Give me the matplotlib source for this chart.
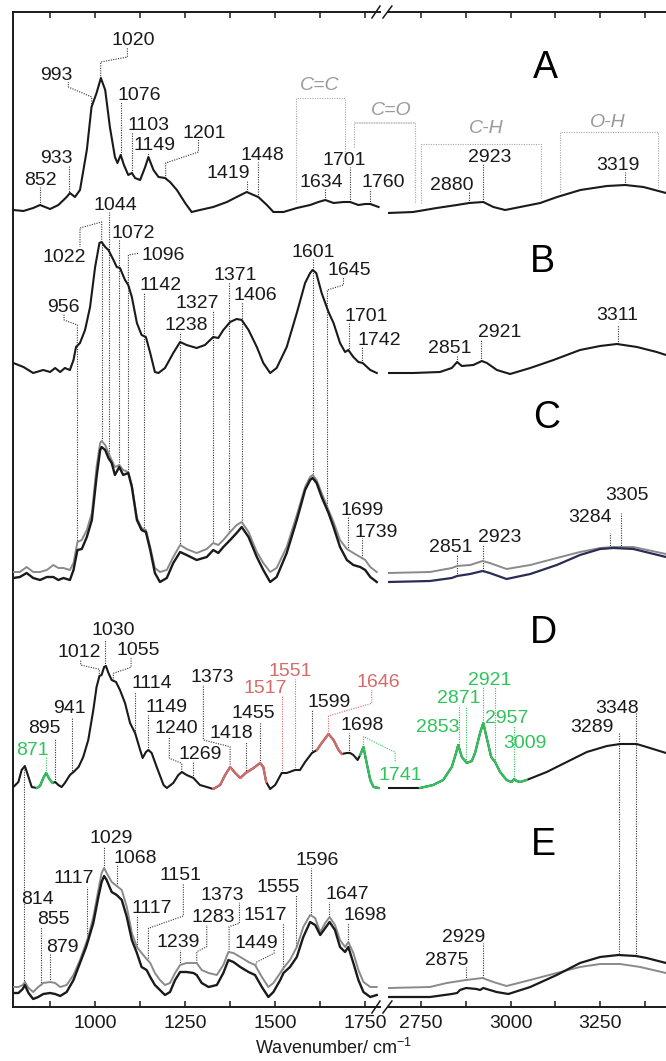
import numpy as np
import matplotlib.pyplot as plt
from matplotlib.patches import ConnectionPatch

plt.rcParams["font.family"] = ["Liberation Sans", "DejaVu Sans"]
plt.rcParams["mathtext.fontset"] = "custom"
plt.rcParams["mathtext.rm"] = "Liberation Sans"

INK = "#1a1a1a"
GREY = "#8a8a8a"
NAVY = "#2a2c55"
GREEN = "#30c35c"
RED = "#d86a6a"
LEAD = "#333333"
BRACKET = "#a8a8a8"
TONES = {"k": INK, "g": GREEN, "r": RED}

# ---------------------------------------------------------------- spectra
# y is an arbitrary stacked intensity (offset per trace), x in cm-1
A_LEFT_WN = [773, 801, 828, 847, 875, 898, 921, 930, 944, 958, 977, 990, 1004, 1016, 1028, 1041,
             1055, 1062, 1071, 1080, 1092, 1102, 1111, 1125, 1139, 1148, 1162, 1176, 1194, 1208,
             1227, 1250, 1268, 1291, 1328, 1366, 1393, 1421, 1440, 1453, 1477, 1495, 1523, 1560,
             1597, 1620, 1639, 1662, 1690, 1708, 1731, 1750, 1764, 1787]
A_LEFT_Y = [797, 796, 799, 802, 798, 802, 810, 814, 810, 817, 857, 900, 914, 929, 917, 880,
            850, 844, 852, 842, 832, 834, 829, 827, 840, 850, 837, 830, 829, 825,
            817, 804, 795, 797, 800, 805, 810, 815, 812, 810, 802, 795, 795, 799,
            802, 805, 807, 804, 805, 805, 802, 803, 803, 800]
A_RIGHT_WN = [2659, 2728, 2794, 2850, 2885, 2924, 2952, 2985, 3027, 3083, 3130, 3195, 3269, 3320, 3371, 3434]
A_RIGHT_Y = [794, 795, 799, 802, 804, 805, 800, 797, 800, 804, 810, 817, 821, 822, 820, 814]

B_LEFT_WN = [773, 801, 828, 856, 875, 889, 903, 916, 930, 940, 947, 958, 972, 986, 1000, 1012,
             1018, 1028, 1037, 1051, 1060, 1069, 1083, 1092, 1102, 1116, 1129, 1141, 1153, 1166,
             1176, 1194, 1217, 1236, 1254, 1282, 1305, 1328, 1342, 1356, 1375, 1393, 1407, 1426,
             1449, 1467, 1486, 1504, 1532, 1560, 1583, 1597, 1604, 1614, 1629, 1648, 1662, 1680,
             1694, 1703, 1717, 1731, 1743, 1764, 1782]
B_LEFT_Y = [644, 640, 634, 637, 635, 639, 635, 639, 637, 647, 660, 664, 677, 700, 740, 764,
            765, 760, 757, 747, 740, 739, 727, 722, 710, 684, 672, 670, 654, 635,
            634, 639, 654, 665, 662, 659, 662, 670, 669, 677, 685, 688, 687, 677,
            660, 644, 634, 639, 660, 694, 724, 734, 737, 734, 714, 695, 684, 664,
            655, 657, 650, 645, 644, 637, 634]
B_RIGHT_WN = [2659, 2728, 2803, 2836, 2851, 2864, 2896, 2920, 2934, 2962, 2999, 3055, 3120, 3194,
              3250, 3297, 3353, 3408, 3434]
B_RIGHT_Y = [634, 634, 635, 639, 645, 641, 642, 646, 644, 637, 633, 639, 647, 657, 661, 663, 660, 655, 652]

C_LEFT_WN = [773, 791, 810, 828, 847, 866, 884, 898, 912, 930, 940, 951, 963, 977, 991, 1004,
             1014, 1018, 1028, 1037, 1046, 1055, 1067, 1078, 1092, 1102, 1116, 1129, 1141, 1153,
             1166, 1180, 1199, 1217, 1236, 1254, 1282, 1310, 1328, 1342, 1356, 1375, 1393, 1407,
             1426, 1449, 1467, 1486, 1504, 1532, 1560, 1583, 1597, 1604, 1615, 1629, 1648, 1662,
             1680, 1699, 1717, 1736, 1750, 1764, 1782]
C_LEFT_BLACK = [429, 430, 434, 429, 427, 430, 430, 427, 429, 427, 437, 457, 458, 470, 487, 530,
                557, 560, 557, 549, 544, 532, 540, 532, 534, 520, 487, 477, 475, 457,
                434, 425, 429, 444, 455, 452, 447, 450, 457, 454, 460, 467, 474, 480,
                470, 450, 437, 425, 430, 454, 487, 517, 527, 529, 524, 510, 494, 480,
                460, 447, 442, 440, 437, 430, 425]
C_LEFT_GREY = [435, 435, 440, 435, 435, 437, 442, 439, 439, 437, 444, 465, 467, 477, 494, 540,
               564, 566, 562, 554, 547, 540, 542, 537, 535, 522, 489, 479, 477, 460,
               439, 435, 437, 450, 462, 458, 454, 458, 464, 462, 467, 475, 482, 485,
               475, 455, 444, 435, 439, 460, 492, 520, 530, 532, 527, 514, 497, 485,
               467, 458, 454, 450, 447, 440, 435]
C_RIGHT_WN = [2659, 2775, 2836, 2851, 2887, 2922, 2942, 2989, 3055, 3129, 3194, 3250, 3287, 3343, 3434]
C_RIGHT_GREY = [434, 435, 439, 441, 442, 446, 444, 438, 442, 449, 455, 459, 460, 460, 453]
C_RIGHT_DARK = [425, 426, 429, 431, 433, 436, 434, 428, 433, 442, 452, 458, 459, 458, 450]

D_LEFT_WN = [773, 787, 796, 805, 815, 824, 838, 847, 856, 864, 873, 882, 889, 898, 907, 916,
             930, 940, 954, 967, 981, 995, 1004, 1012, 1018, 1025, 1030, 1037, 1046, 1058,
             1069, 1083, 1097, 1111, 1125, 1132, 1141, 1148, 1157, 1171, 1190, 1199, 1217, 1231,
             1241, 1254, 1273, 1291, 1310, 1328, 1347, 1361, 1375, 1389, 1403, 1418, 1440, 1458,
             1467, 1475, 1486, 1500, 1512, 1518, 1532, 1555, 1569, 1583, 1602, 1616, 1629, 1648,
             1662, 1676, 1685, 1699, 1708, 1717, 1729, 1736, 1745, 1754, 1764, 1773, 1787]
D_LEFT_Y = [220, 225, 237, 241, 230, 220, 219, 221, 229, 234, 228, 224, 225, 222, 220, 224,
            232, 235, 240, 250, 267, 297, 320, 331, 332, 340, 341, 334, 327, 325,
            317, 304, 284, 274, 257, 249, 255, 257, 254, 240, 222, 219, 224, 232,
            235, 232, 229, 222, 220, 218, 222, 232, 240, 234, 229, 234, 239, 244,
            240, 225, 218, 222, 230, 234, 234, 237, 237, 245, 254, 257, 264, 273,
            267, 257, 253, 254, 254, 252, 247, 252, 260, 244, 227, 220, 219]
D_RIGHT_WN = [2659, 2747, 2784, 2812, 2836, 2848, 2854, 2864, 2878, 2892, 2901, 2915, 2924, 2933,
              2946, 2957, 2971, 2989, 3003, 3010, 3017, 3027, 3045, 3101, 3157, 3213, 3269, 3306,
              3352, 3380, 3434]
D_RIGHT_Y = [219, 219, 222, 227, 240, 254, 262, 250, 244, 246, 254, 274, 284, 270,
             250, 245, 235, 227, 225, 228, 226, 225, 227, 235, 245, 255, 261, 263, 263, 260, 254]
# coloured stretches of trace D (cm-1 ranges)
D_GREEN_BANDS = [(838, 882), (1736, 1787), (2747, 3045)]
D_RED_BANDS = [(1328, 1475), (1616, 1685)]

E_LEFT_WN = [773, 787, 799, 805, 815, 828, 842, 856, 875, 889, 903, 921, 940, 958, 975, 981,
             995, 1009, 1018, 1025, 1032, 1046, 1060, 1074, 1088, 1102, 1116, 1129, 1143, 1153,
             1166, 1180, 1194, 1208, 1222, 1236, 1254, 1273, 1282, 1296, 1315, 1338, 1356, 1370,
             1384, 1403, 1426, 1444, 1463, 1481, 1495, 1514, 1523, 1541, 1560, 1578, 1597, 1611,
             1625, 1639, 1651, 1666, 1680, 1694, 1703, 1717, 1731, 1745, 1764, 1782]
E_LEFT_BLACK = [14, 14, 18, 22, 14, 8, 10, 13, 14, 13, 11, 15, 27, 44, 60, 67,
                84, 110, 125, 131, 127, 115, 112, 107, 90, 67, 54, 40, 37, 30,
                22, 17, 12, 15, 27, 35, 35, 34, 32, 24, 20, 22, 34, 47,
                45, 40, 35, 32, 20, 10, 15, 27, 34, 40, 50, 70, 85, 82,
                72, 79, 85, 77, 60, 55, 60, 44, 27, 15, 10, 12]
E_LEFT_GREY = [20, 20, 22, 25, 19, 15, 20, 24, 25, 24, 20, 22, 32, 47, 64, 70,
               90, 117, 134, 139, 134, 125, 121, 117, 100, 74, 60, 54, 48, 44,
               34, 27, 22, 24, 34, 42, 44, 44, 44, 37, 34, 32, 42, 55,
               54, 50, 45, 42, 30, 20, 24, 34, 39, 47, 60, 80, 92, 89,
               75, 84, 90, 82, 67, 60, 65, 54, 37, 25, 20, 20]
E_RIGHT_GREY_WN = [2659, 2775, 2822, 2876, 2922, 2952, 2989, 3055, 3129, 3194, 3250, 3306, 3362, 3434]
E_RIGHT_GREY = [19, 20, 24, 27, 29, 25, 21, 27, 34, 40, 43, 43, 40, 34]
E_RIGHT_BLACK_WN = [2659, 2775, 2836, 2851, 2859, 2876, 2905, 2915, 2924, 2933, 2961, 2994, 3055,
                    3129, 3194, 3250, 3301, 3350, 3380, 3434]
E_RIGHT_BLACK = [10, 10, 13, 14, 17, 19, 18, 17, 19, 18, 15, 13, 20, 32, 44, 50, 52, 51, 49, 44]

# ---------------------------------------------------------------- peak labels
A_LEFT_PEAKS = ["852", "933", "993", "1020", "1076", "1103", "1149", "1201", "1419", "1448",
                "1634", "1701", "1760"]
A_RIGHT_PEAKS = ["2880", "2923", "3319"]
B_LEFT_PEAKS = ["956", "1022", "1044", "1072", "1096", "1142", "1238", "1327", "1371", "1406",
                "1601", "1645", "1701", "1742"]
B_RIGHT_PEAKS = ["2851", "2921", "3311"]
C_LEFT_PEAKS = ["1699", "1739"]
C_RIGHT_PEAKS = ["2851", "2923", "3284", "3305"]
D_LEFT_PEAKS = ["871", "895", "941", "1012", "1030", "1055", "1114", "1149", "1240", "1269",
                "1373", "1418", "1455", "1517", "1551", "1599", "1646", "1698", "1741"]
D_LEFT_TONE = ["g", "k", "k", "k", "k", "k", "k", "k", "k", "k",
               "k", "k", "k", "r", "r", "k", "r", "k", "g"]
D_RIGHT_PEAKS = ["2853", "2871", "2921", "2957", "3009"]
D_DROP_PEAKS = ["3289", "3348"]
E_LEFT_PEAKS = ["855", "879", "1117", "1029", "1068", "1117", "1151", "1239", "1283", "1373",
                "1449", "1517", "1555", "1596", "1647", "1698"]
E_RIGHT_PEAKS = ["2875", "2929"]
E_RISE_PEAK = "814"
GROUPS = ["C=C", "C=O", "C-H", "O-H"]
PANELS = ["A", "B", "C", "D", "E"]

# layout: (leader x on trace, text x, text baseline, leader top or elbow path)
A_LEFT_LAYOUT = [
    (847, 847, 822, 820),
    (928.5, 893, 844, 842),
    (990.5, 893, 927, [(990.5, 910), (925.7, 920), (925.7, 925)]),
    (1015.5, 1106, 962, [(1015.5, 945), (1089.6, 950), (1089.6, 960)]),
    (1071, 1123, 907, 905),
    (1101.6, 1147, 877, 875),
    (1148, 1166, 857, 855),
    (1196, 1303, 869, [(1196, 844), (1287, 855), (1287, 867)]),
    (1421, 1371, 829, 827),
    (1453.5, 1465.5, 847, 845),
    (1638.7, 1627.6, 820, 818.5),
    (1708, 1691, 842, 840),
    (1763.7, 1800, 820, 818.5),
]
A_RIGHT_LAYOUT = [(2885, 2836, 817, 815), (2924, 2942, 845, 843.5), (3320, 3299, 837, 835)]
B_LEFT_LAYOUT = [
    (950.7, 912, 695, [(950.7, 682), (913.7, 687), (913.7, 693.5)]),
    (1018.3, 913, 745, [(1018.3, 785), (958, 779), (958, 760)]),
    (1039.6, 1057, 797, 795),
    (1067.4, 1105, 769, 767.5),
    (1092.4, 1190, 747, [(1092.4, 752), (1120, 753.7)]),
    (1136.8, 1181, 717, 715),
    (1236.8, 1252.6, 677, 675),
    (1328.5, 1283, 699, 697),
    (1373, 1390, 727, 725),
    (1408, 1445, 707, 705),
    (1604.4, 1604.4, 750, 748.5),
    (1645, 1707, 732, [(1645, 717), (1689.6, 722), (1689.6, 730)]),
    (1705, 1752.6, 686, 684.5),
    (1742.4, 1789, 662, 660.5),
]
B_DROP_COUNT = 12  # first twelve B leaders run down to trace C
B_RIGHT_LAYOUT = [(2851.4, 2830, 654, 652), (2917.6, 2969, 670, 667), (3298.7, 3298.7, 687, 682)]
C_LEFT_LAYOUT = [(1703.5, 1740.5, 492, 490), (1742, 1780, 470, 468.7)]
C_RIGHT_LAYOUT = [(2851.4, 2832, 455, 453), (2922, 2971, 465, 463),
                  (3278, 3221, 485, 473.7), (3307.8, 3325, 507, 494.3)]
D_LEFT_LAYOUT = [
    (863.7, 825.7, 252, 250.3),
    (888.7, 858, 274, 268.7),
    (937, 929.4, 294, 290.3),
    (1011.8, 956, 350, [(1011.8, 337.7), (960, 342), (960, 347)]),
    (1028.5, 1050.7, 372, 367.7),
    (1050.7, 1120, 352, [(1050.7, 333.7), (1099.8, 339.7), (1099.8, 348.7)]),
    (1111, 1157, 319, 315.3),
    (1148, 1198, 295, 292),
    (1240.5, 1225.7, 274, [(1240.5, 243.7), (1206, 248.7), (1206, 270.3)]),
    (1272.9, 1291.4, 248, 245.3),
    (1374.8, 1324, 325, [(1374.8, 260.3), (1300.7, 267), (1300.7, 322)]),
    (1418, 1379.4, 269, 265.3),
    (1458, 1438.7, 289, 285.3),
    (1518.3, 1473, 314, 312),
    (1555.3, 1541.4, 331, 327.7),
    (1603.5, 1650.7, 300, 297),
    (1647.9, 1786, 320, [(1647.9, 291), (1768, 303.7), (1768, 317)]),
    (1706, 1741.4, 277, 274.3),
    (1745.2, 1847, 227, [(1745.2, 270.3), (1833, 254.7), (1833, 245.3)]),
]
D_RIGHT_LAYOUT = [(2856, 2798, 275, 302), (2875.7, 2855.5, 304, 300.3), (2922, 2942.6, 322, 320.3),
                  (2957, 2990, 284, 320.3), (3010, 3041.4, 259, 281)]
D_DROP_LAYOUT = [(3302.7, 3226, 275, 273.7), (3349.7, 3297, 294, 293.7)]
E_LEFT_LAYOUT = [
    (848.9, 884, 83, 80.3),
    (874.8, 910, 55, 53.7),
    (976.6, 939.6, 124, 120.3),
    (1024.8, 1046, 164, 160.3),
    (1060, 1111, 144, 142),
    (1115.5, 1157, 94, 92),
    (1148, 1236, 127, [(1148, 78.7), (1245, 91), (1245, 123.7)]),
    (1236.8, 1231.3, 60, 57),
    (1282.2, 1328.5, 85, [(1282.2, 55.3), (1310, 60.3), (1310, 82)]),
    (1372, 1352.6, 107, [(1372, 80.3), (1400.7, 83.7), (1400.7, 104.3)]),
    (1447, 1447, 59, [(1447, 44.7), (1497, 53.7), (1497, 57)]),
    (1521, 1473, 87, 84.3),
    (1558, 1509, 115, 112),
    (1598.9, 1615.5, 142, 138.7),
    (1650.7, 1700.7, 108, 105.3),
    (1703.5, 1750.7, 87, 84.3),
]
E_RIGHT_LAYOUT = [(2876, 2822, 42, 40.3), (2922, 2870, 65, 63.7)]
E_RISE_LAYOUT = (803.5, 839.6, 103)
PANEL_X = [3097, 3090, 3101, 3092, 3092]
PANEL_Y = [929, 735, 579, 364, 152]

# ---------------------------------------------------------------- figure
W, H = 666.0, 1061.0
BOT, TOP = 1007.0, 12.0
fig = plt.figure(figsize=(W / 100, H / 100), dpi=100)
axL = fig.add_axes([13 / W, 1 - BOT / H, 367 / W, (BOT - TOP) / H])
axR = fig.add_axes([388 / W, 1 - BOT / H, 278 / W, (BOT - TOP) / H])
axR.patch.set_visible(False)
axL.set_xlim(772, 1791)
axR.set_xlim(2658, 3434)
for ax in (axL, axR):
    ax.set_ylim(0, 995)
    ax.set_yticks([])
    ax.tick_params(axis="x", which="both", direction="in", top=True, length=4,
                   width=1.1, labelsize=14, pad=6, colors=INK)
    for s in ax.spines.values():
        s.set_linewidth(1.4)
        s.set_color(INK)
axL.spines["right"].set_visible(False)
axR.spines["left"].set_visible(False)
axR.spines["right"].set_visible(False)
axL.set_xticks([1000, 1250, 1500, 1750])
axL.set_xticks([875, 1125, 1375, 1625], minor=True)
axR.set_xticks([2750, 3000, 3250])
axR.set_xticks([2875, 3125, 3375], minor=True)

# axis break marks
for yb in (0, 1):
    axL.plot([0.978, 1.0], [yb - 0.006, yb + 0.006], transform=axL.transAxes,
             color=INK, lw=1.1, clip_on=False)
    axR.plot([-0.018, 0.014], [yb - 0.006, yb + 0.006], transform=axR.transAxes,
             color=INK, lw=1.1, clip_on=False)

fig.text(333 / W, 1 - 1048 / H, "Wavenumber/ cm$^{-1}$", ha="center", va="center",
         fontsize=13, color=INK)

DOT = (0, (1, 1.2))


def trace(ax, wn, y, color=INK, lw=1.5):
    ax.plot(wn, y, color=color, lw=lw, zorder=3, solid_joinstyle="round")


def bands(ax, wn, y, ranges, color):
    wn = np.asarray(wn)
    y = np.asarray(y)
    for lo, hi in ranges:
        m = (wn >= lo) & (wn <= hi)
        if m.sum() > 1:
            ax.plot(wn[m], y[m], color=color, lw=1.6, zorder=4, solid_joinstyle="round")


def leader(ax, pts, color=LEAD):
    xs, ys = zip(*pts)
    ax.plot(xs, ys, color=color, lw=0.8, ls=DOT, clip_on=False, zorder=2)


def marks(ax, wn, y, peaks, layout, tones=None):
    for i, (text, (x0, tx, ty, lead)) in enumerate(zip(peaks, layout)):
        c = TONES[tones[i]] if tones else INK
        y0 = np.interp(x0, wn, y)
        pts = [(x0, y0)] + ([(x0, lead)] if np.isscalar(lead) else list(lead))
        leader(ax, pts, LEAD if c == INK else c)
        ax.text(tx, ty, text, ha="center", va="baseline", fontsize=14, color=c, zorder=5)


# traces
trace(axL, A_LEFT_WN, A_LEFT_Y)
trace(axR, A_RIGHT_WN, A_RIGHT_Y)
trace(axL, B_LEFT_WN, B_LEFT_Y)
trace(axR, B_RIGHT_WN, B_RIGHT_Y)
trace(axL, C_LEFT_WN, C_LEFT_GREY, GREY, 1.4)
trace(axL, C_LEFT_WN, C_LEFT_BLACK, INK, 1.7)
trace(axR, C_RIGHT_WN, C_RIGHT_GREY, GREY, 1.4)
trace(axR, C_RIGHT_WN, C_RIGHT_DARK, NAVY, 1.6)
trace(axL, D_LEFT_WN, D_LEFT_Y)
trace(axR, D_RIGHT_WN, D_RIGHT_Y)
bands(axL, D_LEFT_WN, D_LEFT_Y, D_GREEN_BANDS, GREEN)
bands(axR, D_RIGHT_WN, D_RIGHT_Y, D_GREEN_BANDS, GREEN)
bands(axL, D_LEFT_WN, D_LEFT_Y, D_RED_BANDS, RED)
trace(axL, E_LEFT_WN, E_LEFT_GREY, GREY, 1.4)
trace(axL, E_LEFT_WN, E_LEFT_BLACK, INK, 1.7)
trace(axR, E_RIGHT_GREY_WN, E_RIGHT_GREY, GREY, 1.4)
trace(axR, E_RIGHT_BLACK_WN, E_RIGHT_BLACK, INK, 1.6)

# peak labels
marks(axL, A_LEFT_WN, A_LEFT_Y, A_LEFT_PEAKS, A_LEFT_LAYOUT)
marks(axR, A_RIGHT_WN, A_RIGHT_Y, A_RIGHT_PEAKS, A_RIGHT_LAYOUT)
marks(axL, B_LEFT_WN, B_LEFT_Y, B_LEFT_PEAKS, B_LEFT_LAYOUT)
marks(axR, B_RIGHT_WN, B_RIGHT_Y, B_RIGHT_PEAKS, B_RIGHT_LAYOUT)
for x0, *_ in B_LEFT_LAYOUT[:B_DROP_COUNT]:
    leader(axL, [(x0, np.interp(x0, B_LEFT_WN, B_LEFT_Y)),
                 (x0, np.interp(x0, C_LEFT_WN, C_LEFT_GREY))])
marks(axL, C_LEFT_WN, C_LEFT_GREY, C_LEFT_PEAKS, C_LEFT_LAYOUT)
marks(axR, C_RIGHT_WN, C_RIGHT_DARK, C_RIGHT_PEAKS, C_RIGHT_LAYOUT)
marks(axL, D_LEFT_WN, D_LEFT_Y, D_LEFT_PEAKS, D_LEFT_LAYOUT, D_LEFT_TONE)
marks(axR, D_RIGHT_WN, D_RIGHT_Y, D_RIGHT_PEAKS, D_RIGHT_LAYOUT, ["g"] * len(D_RIGHT_PEAKS))
for text, (x0, tx, ty, top) in zip(D_DROP_PEAKS, D_DROP_LAYOUT):
    leader(axR, [(x0, top), (x0, np.interp(x0, E_RIGHT_BLACK_WN, E_RIGHT_BLACK))])
    axR.text(tx, ty, text, ha="center", va="baseline", fontsize=14, color=INK)
marks(axL, E_LEFT_WN, E_LEFT_GREY, E_LEFT_PEAKS, E_LEFT_LAYOUT)
marks(axR, E_RIGHT_GREY_WN, E_RIGHT_GREY, E_RIGHT_PEAKS, E_RIGHT_LAYOUT)
x0, tx, ty = E_RISE_LAYOUT
leader(axL, [(x0, np.interp(x0, E_LEFT_WN, E_LEFT_GREY)), (x0, np.interp(x0, D_LEFT_WN, D_LEFT_Y))])
axL.text(tx, ty, E_RISE_PEAK, ha="center", va="baseline", fontsize=14, color=INK)

# functional-group brackets on trace A
bk = dict(color=BRACKET, lw=0.8, ls=DOT, clip_on=False, zorder=2)
gt = dict(ha="center", va="baseline", fontsize=14, color="#9a9a9a", style="italic")
axL.plot([1557, 1557, 1694, 1694], [805, 909, 909, 847], **bk)
axL.text(1623, 917, GROUPS[0], **gt)
axL.plot([1720, 1720], [860, 884], **bk)
fig.add_artist(ConnectionPatch(xyA=(1720, 884), coordsA=axL.transData,
                               xyB=(2733, 884), coordsB=axR.transData,
                               color=BRACKET, lw=0.8, ls=DOT))
axR.plot([2733, 2733], [884, 804], **bk)
axR.text(2666, 892, GROUPS[1], **gt)
axR.plot([2749, 2749, 3084, 3084], [804, 863, 863, 809], **bk)
axR.text(2933, 874, GROUPS[2], **gt)
axR.plot([3138, 3138, 3413, 3413], [815, 875, 875, 819], **bk)
axR.text(3271, 880, GROUPS[3], **gt)

for name, px, py in zip(PANELS, PANEL_X, PANEL_Y):
    axR.text(px, py, name, ha="center", va="baseline", fontsize=27, color="black")

fig.savefig("out.png", dpi=100)
